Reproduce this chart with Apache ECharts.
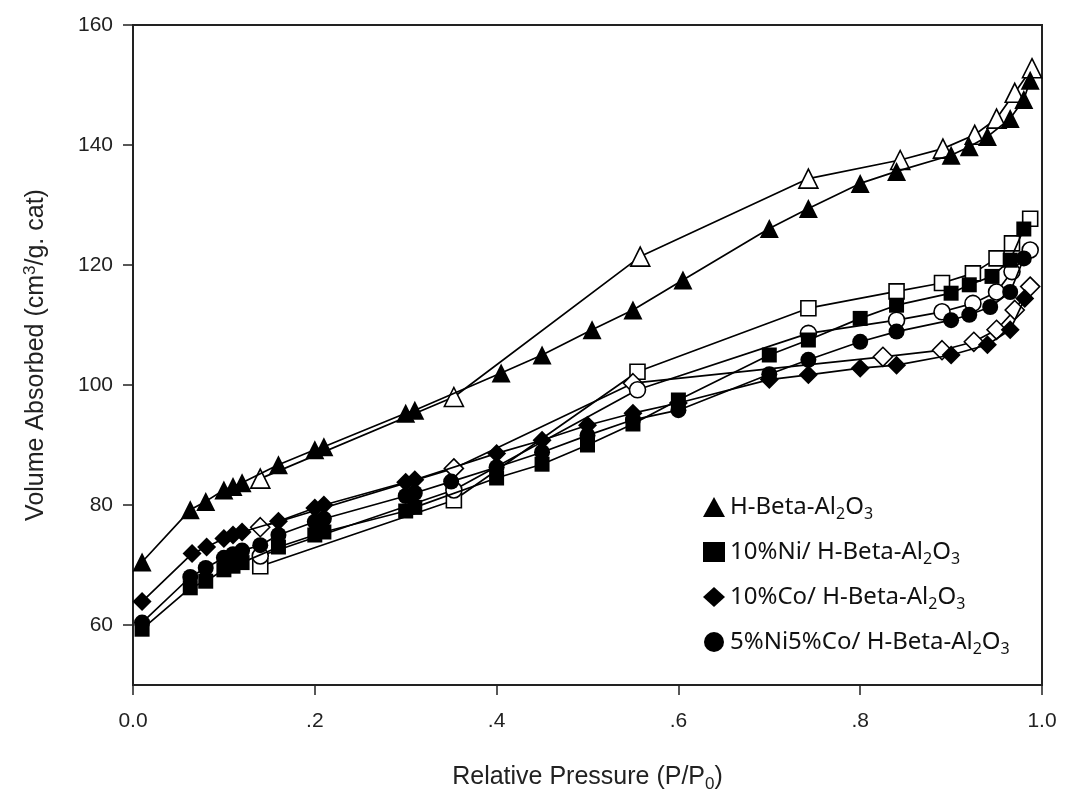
<!DOCTYPE html>
<html>
<head>
<meta charset="utf-8">
<script src="https://cdn.jsdelivr.net/npm/echarts@6/dist/echarts.min.js"></script>
<style>
  html, body { margin: 0; padding: 0; background: #fff; }
  #chart { width: 1065px; height: 794px; }
</style>
</head>
<body>
<div id="chart"></div>
<script>
// N2 adsorption / desorption isotherms (relative pressure vs. volume absorbed)

// Sample names (subscripts written as rich-text tags by the formatter)
const sampleNames = ['H-Beta-Al2O3', '10%Ni/ H-Beta-Al2O3', '10%Co/ H-Beta-Al2O3', '5%Ni5%Co/ H-Beta-Al2O3'];

// H-Beta-Al2O3
const hbAdsP = [0.01, 0.063, 0.08, 0.10, 0.11, 0.12, 0.16, 0.20, 0.21, 0.30, 0.31, 0.405, 0.45, 0.505, 0.55, 0.605, 0.70, 0.743, 0.80, 0.84, 0.90, 0.92, 0.94, 0.965, 0.98, 0.987];
const hbAdsV = [70.5, 79.2, 80.6, 82.5, 83.1, 83.7, 86.7, 89.2, 89.7, 95.3, 95.8, 102.0, 105.0, 109.2, 112.5, 117.5, 126.1, 129.4, 133.6, 135.6, 138.3, 139.7, 141.4, 144.4, 147.6, 150.8];
const hbDesP = [0.14, 0.353, 0.558, 0.743, 0.844, 0.891, 0.926, 0.95, 0.97, 0.989];
const hbDesV = [84.4, 98.0, 121.4, 134.4, 137.5, 139.4, 141.7, 144.4, 148.7, 152.8];

// 10%Ni/ H-Beta-Al2O3
const niAdsP = [0.01, 0.063, 0.08, 0.10, 0.11, 0.12, 0.16, 0.20, 0.21, 0.30, 0.31, 0.40, 0.45, 0.50, 0.55, 0.60, 0.70, 0.743, 0.80, 0.84, 0.90, 0.92, 0.945, 0.965, 0.98];
const niAdsV = [59.3, 66.2, 67.3, 69.2, 69.8, 70.4, 73.0, 75.0, 75.5, 79.0, 79.6, 84.5, 86.8, 90.0, 93.5, 97.5, 105.0, 107.5, 111.1, 113.3, 115.3, 116.7, 118.1, 120.8, 126.0];
const niDesP = [0.14, 0.353, 0.555, 0.743, 0.84, 0.89, 0.924, 0.95, 0.967, 0.987];
const niDesV = [69.8, 80.8, 102.2, 112.8, 115.6, 117.0, 118.6, 121.1, 123.6, 127.7];

// 10%Co/ H-Beta-Al2O3
const coAdsP = [0.01, 0.065, 0.081, 0.10, 0.11, 0.12, 0.16, 0.20, 0.21, 0.30, 0.31, 0.40, 0.45, 0.50, 0.55, 0.60, 0.70, 0.743, 0.80, 0.84, 0.90, 0.94, 0.965, 0.981];
const coAdsV = [63.9, 71.9, 73.0, 74.4, 75.0, 75.5, 77.3, 79.5, 80.0, 83.8, 84.2, 88.6, 90.8, 93.3, 95.3, 97.0, 100.9, 101.7, 102.8, 103.3, 105.0, 106.7, 109.2, 114.4];
const coDesP = [0.14, 0.353, 0.55, 0.825, 0.89, 0.925, 0.95, 0.97, 0.987];
const coDesV = [76.3, 86.1, 100.3, 104.7, 105.8, 107.2, 109.2, 112.5, 116.4];

// 5%Ni5%Co/ H-Beta-Al2O3
const nicoAdsP = [0.01, 0.063, 0.08, 0.10, 0.11, 0.12, 0.14, 0.16, 0.20, 0.21, 0.30, 0.31, 0.35, 0.40, 0.45, 0.50, 0.55, 0.60, 0.70, 0.743, 0.80, 0.84, 0.90, 0.92, 0.943, 0.965, 0.98];
const nicoAdsV = [60.4, 68.0, 69.5, 71.2, 71.8, 72.4, 73.3, 75.0, 77.2, 77.7, 81.5, 82.0, 83.9, 86.3, 88.8, 91.6, 94.2, 95.8, 101.8, 104.2, 107.2, 108.9, 110.8, 111.7, 113.0, 115.5, 121.1];
const nicoDesP = [0.14, 0.353, 0.555, 0.743, 0.84, 0.89, 0.924, 0.95, 0.967, 0.987];
const nicoDesV = [71.5, 82.5, 99.2, 108.6, 110.8, 112.2, 113.6, 115.5, 118.9, 122.5];

// Axis ticks
const xTicks = [0, 0.2, 0.4, 0.6, 0.8, 1.0];
const xTickLabels = ['0.0', '.2', '.4', '.6', '.8', '1.0'];
const yTicks = [60, 80, 100, 120, 140, 160];

const zip = (p, v) => p.map((x, i) => [x, v[i]]);
const subscript = s => s.replace(/Al2O3/g, 'Al{sub|2}O{sub|3}');

function isotherm(name, symbol, size, p, v, filled, showInLegend) {
  return {
    name: showInLegend ? name : name + ' (desorption)',
    type: 'line',
    data: zip(p, v),
    symbol: symbol,
    symbolSize: size,
    showAllSymbol: true,
    animation: false,
    lineStyle: { color: '#000', width: 1.7 },
    itemStyle: {
      color: filled ? '#000' : '#fff',
      borderColor: '#000',
      borderWidth: filled ? 0 : 1.6
    },
    emphasis: { disabled: true },
    z: filled ? 3 : 2
  };
}

const symbols = [
  ['triangle', 19],
  ['rect', 15],
  ['diamond', 19],
  ['circle', 16]
];
const adsSets = [[hbAdsP, hbAdsV], [niAdsP, niAdsV], [coAdsP, coAdsV], [nicoAdsP, nicoAdsV]];
const desSets = [[hbDesP, hbDesV], [niDesP, niDesV], [coDesP, coDesV], [nicoDesP, nicoDesV]];

const series = [];
sampleNames.forEach((n, i) => {
  series.push(isotherm(n, symbols[i][0], symbols[i][1], desSets[i][0], desSets[i][1], false, false));
});
sampleNames.forEach((n, i) => {
  series.push(isotherm(n, symbols[i][0], symbols[i][1], adsSets[i][0], adsSets[i][1], true, true));
});

const chart = echarts.init(document.getElementById('chart'), null, { renderer: 'canvas' });
const axisFont = 'Liberation Sans, Arial, sans-serif';
const legendFont = 'Noto Sans, DejaVu Sans, sans-serif';

chart.setOption({
  backgroundColor: '#fff',
  animation: false,
  grid: {
    left: 133, right: 23, top: 25, bottom: 109,
    containLabel: false,
    outerBoundsMode: 'none',
    show: true, borderColor: '#222', borderWidth: 2, backgroundColor: 'transparent'
  },
  legend: {
    orient: 'vertical',
    left: 698,
    top: 487,
    itemGap: 15,
    itemWidth: 22,
    itemHeight: 20,
    selectedMode: false,
    data: sampleNames.map((n, i) => ({ name: n, icon: ['triangle', 'rect', 'diamond', 'circle'][i] })),
    formatter: n => subscript(n),
    textStyle: {
      fontFamily: legendFont,
      fontSize: 24,
      lineHeight: 30,
      color: '#111',
      rich: {
        sub: { fontSize: 16, fontFamily: legendFont, color: '#111', verticalAlign: 'bottom', padding: [14, 0, 0, 0], lineHeight: 30 }
      }
    }
  },
  xAxis: {
    type: 'value',
    min: 0,
    max: 1,
    interval: 0.2,
    name: 'Relative Pressure (P/P{sub|0})',
    nameLocation: 'middle',
    nameGap: 76,
    nameTextStyle: {
      fontFamily: axisFont, fontSize: 25, color: '#222',
      rich: { sub: { fontFamily: axisFont, fontSize: 17, color: '#222', verticalAlign: 'bottom', padding: [15, 0, 0, 0] } }
    },
    splitLine: { show: false },
    axisLine: { show: true, onZero: false, lineStyle: { color: '#222', width: 2 } },
    axisTick: { show: true, length: 10, lineStyle: { color: '#222', width: 1.5 } },
    axisLabel: {
      margin: 26,
      fontFamily: axisFont, fontSize: 21, color: '#222',
      formatter: v => {
        const i = xTicks.findIndex(t => Math.abs(t - v) < 1e-6);
        return i >= 0 ? xTickLabels[i] : '';
      }
    }
  },
  yAxis: {
    type: 'value',
    min: 50,
    max: 160,
    name: 'Volume Absorbed (cm{sup|3}/g. cat)',
    nameLocation: 'middle',
    nameRotate: 90,
    nameGap: 82,
    nameTextStyle: {
      fontFamily: axisFont, fontSize: 25, color: '#222',
      rich: { sup: { fontFamily: axisFont, fontSize: 17, color: '#222', verticalAlign: 'top', padding: [0, 0, 12, 0] } }
    },
    splitLine: { show: false },
    axisLine: { show: true, onZero: false, lineStyle: { color: '#222', width: 2 } },
    axisTick: { show: true, length: 10, customValues: yTicks, lineStyle: { color: '#222', width: 1.5 } },
    axisLabel: {
      margin: 20,
      fontFamily: axisFont, fontSize: 21, color: '#222',
      customValues: yTicks
    }
  },
  series: series
});
</script>
</body>
</html>
